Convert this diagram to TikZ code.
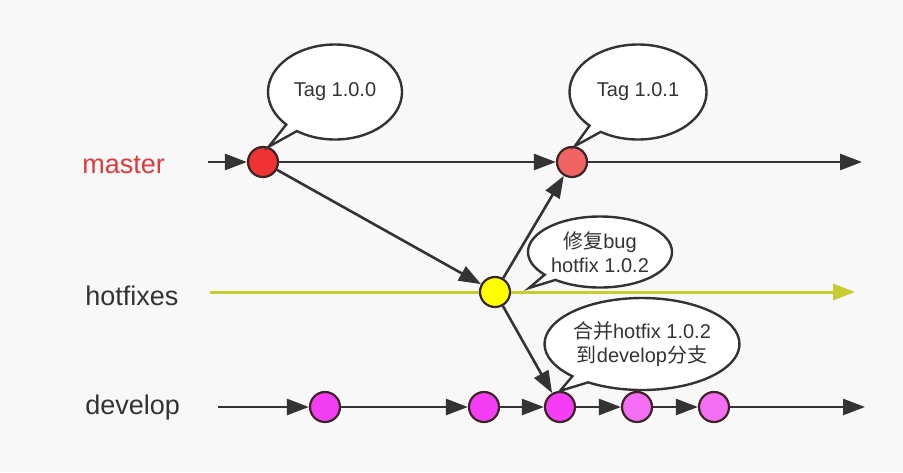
\documentclass[tikz,border=0pt]{standalone}
\usepackage{fontspec}
\setmainfont{Liberation Sans}
\newfontfamily\cjk{Noto Sans CJK SC}
\usepackage{xcolor}
\usetikzlibrary{shapes.callouts, arrows.meta}

\definecolor{bgcol}{HTML}{F8F8F8}
\definecolor{inkcol}{HTML}{333333}
\definecolor{rimcol}{HTML}{3A2424}
\definecolor{mastertext}{HTML}{E0393C}
\definecolor{masterA}{HTML}{F03232}
\definecolor{masterB}{HTML}{F26464}
\definecolor{hotfixline}{HTML}{C9CC2E}
\definecolor{hotfixdot}{HTML}{FFFF00}
\definecolor{developA}{HTML}{F53CF5}
\definecolor{developB}{HTML}{F46EF4}

\begin{document}
\begin{tikzpicture}[
    x=0.5pt, y=-0.5pt,
    commit/.style={circle, draw=rimcol, line width=1.1pt, minimum size=15pt,
                 inner sep=0pt},
    arr/.style={-{Triangle[length=11pt, width=8pt]}, line width=1.3pt, draw=inkcol},
    hotline/.style={line width=1.5pt, draw=hotfixline},
    bubble/.style={ellipse callout, draw=inkcol, fill=white, line width=1.2pt,
                 align=center, inner sep=0pt, callout pointer arc=12,
                 font=\fontsize{10}{12}\selectfont, text=inkcol},
    branch/.style={anchor=west, inner sep=0pt, font=\fontsize{13.5}{16}\selectfont}
  ]

  \fill[bgcol] (0,0) rectangle (903,472);
  \useasboundingbox (0,0) rectangle (903,472);

  \node[branch, text=mastertext] (mlabel) at (82,165) {master};
  \node[branch, text=inkcol] (hlabel) at (85,296) {hotfixes};
  \node[branch, text=inkcol] (dlabel) at (85,408) {develop};

  \coordinate (mstart) at (208,162);
  \coordinate (mend) at (862,162);
  \coordinate (hstart) at (210,292);
  \coordinate (hend) at (855,292);
  \coordinate (dstart) at (218,407);
  \coordinate (dend) at (865,407);

  \node[commit, fill=masterA] (m1) at (263,162) {};
  \node[commit, fill=masterB] (m2) at (572,162) {};
  \node[commit, fill=hotfixdot] (h1) at (495,292) {};
  \node[commit, fill=developA] (d1) at (325,407) {};
  \node[commit, fill=developA] (d2) at (484,407) {};
  \node[commit, fill=developA] (d3) at (560,407) {};
  \node[commit, fill=developB] (d4) at (637,407) {};
  \node[commit, fill=developB] (d5) at (714,407) {};

  \draw[arr] (mstart) -- (m1);
  \draw[arr] (m1) -- (m2);
  \draw[arr] (m2) -- (mend);

  \draw[hotline] (hstart) -- (h1);
  \draw[hotline, -{Triangle[length=11pt, width=8pt]}] (h1) -- (hend);

  \draw[arr] (dstart) -- (d1);
  \draw[arr] (d1) -- (d2);
  \draw[arr] (d2) -- (d3);
  \draw[arr] (d3) -- (d4);
  \draw[arr] (d4) -- (d5);
  \draw[arr] (d5) -- (dend);

  \draw[arr] (m1) -- (h1);
  \draw[arr] (h1) -- (m2);
  \draw[arr] (h1) -- (d3);

  \node[bubble, minimum width=67pt, minimum height=47.5pt,
        callout absolute pointer={(m1.70)}] (tag100) at (335,92) {Tag 1.0.0};
  \node[bubble, minimum width=68.5pt, minimum height=47.5pt,
        callout absolute pointer={(m2.80)}] (tag101) at (638,92) {Tag 1.0.1};
  \node[bubble, minimum width=72pt, minimum height=35.5pt,
        callout absolute pointer={(529,288)}] (fixnote) at (600,252)
        {{\cjk 修复}bug\\hotfix 1.0.2};
  \node[bubble, minimum width=87.5pt, minimum height=46pt,
        callout absolute pointer={(d3.north)}] (mergenote) at (642,344)
        {{\cjk 合并}hotfix 1.0.2\\{\cjk 到}develop{\cjk 分支}};

\end{tikzpicture}
\end{document}
